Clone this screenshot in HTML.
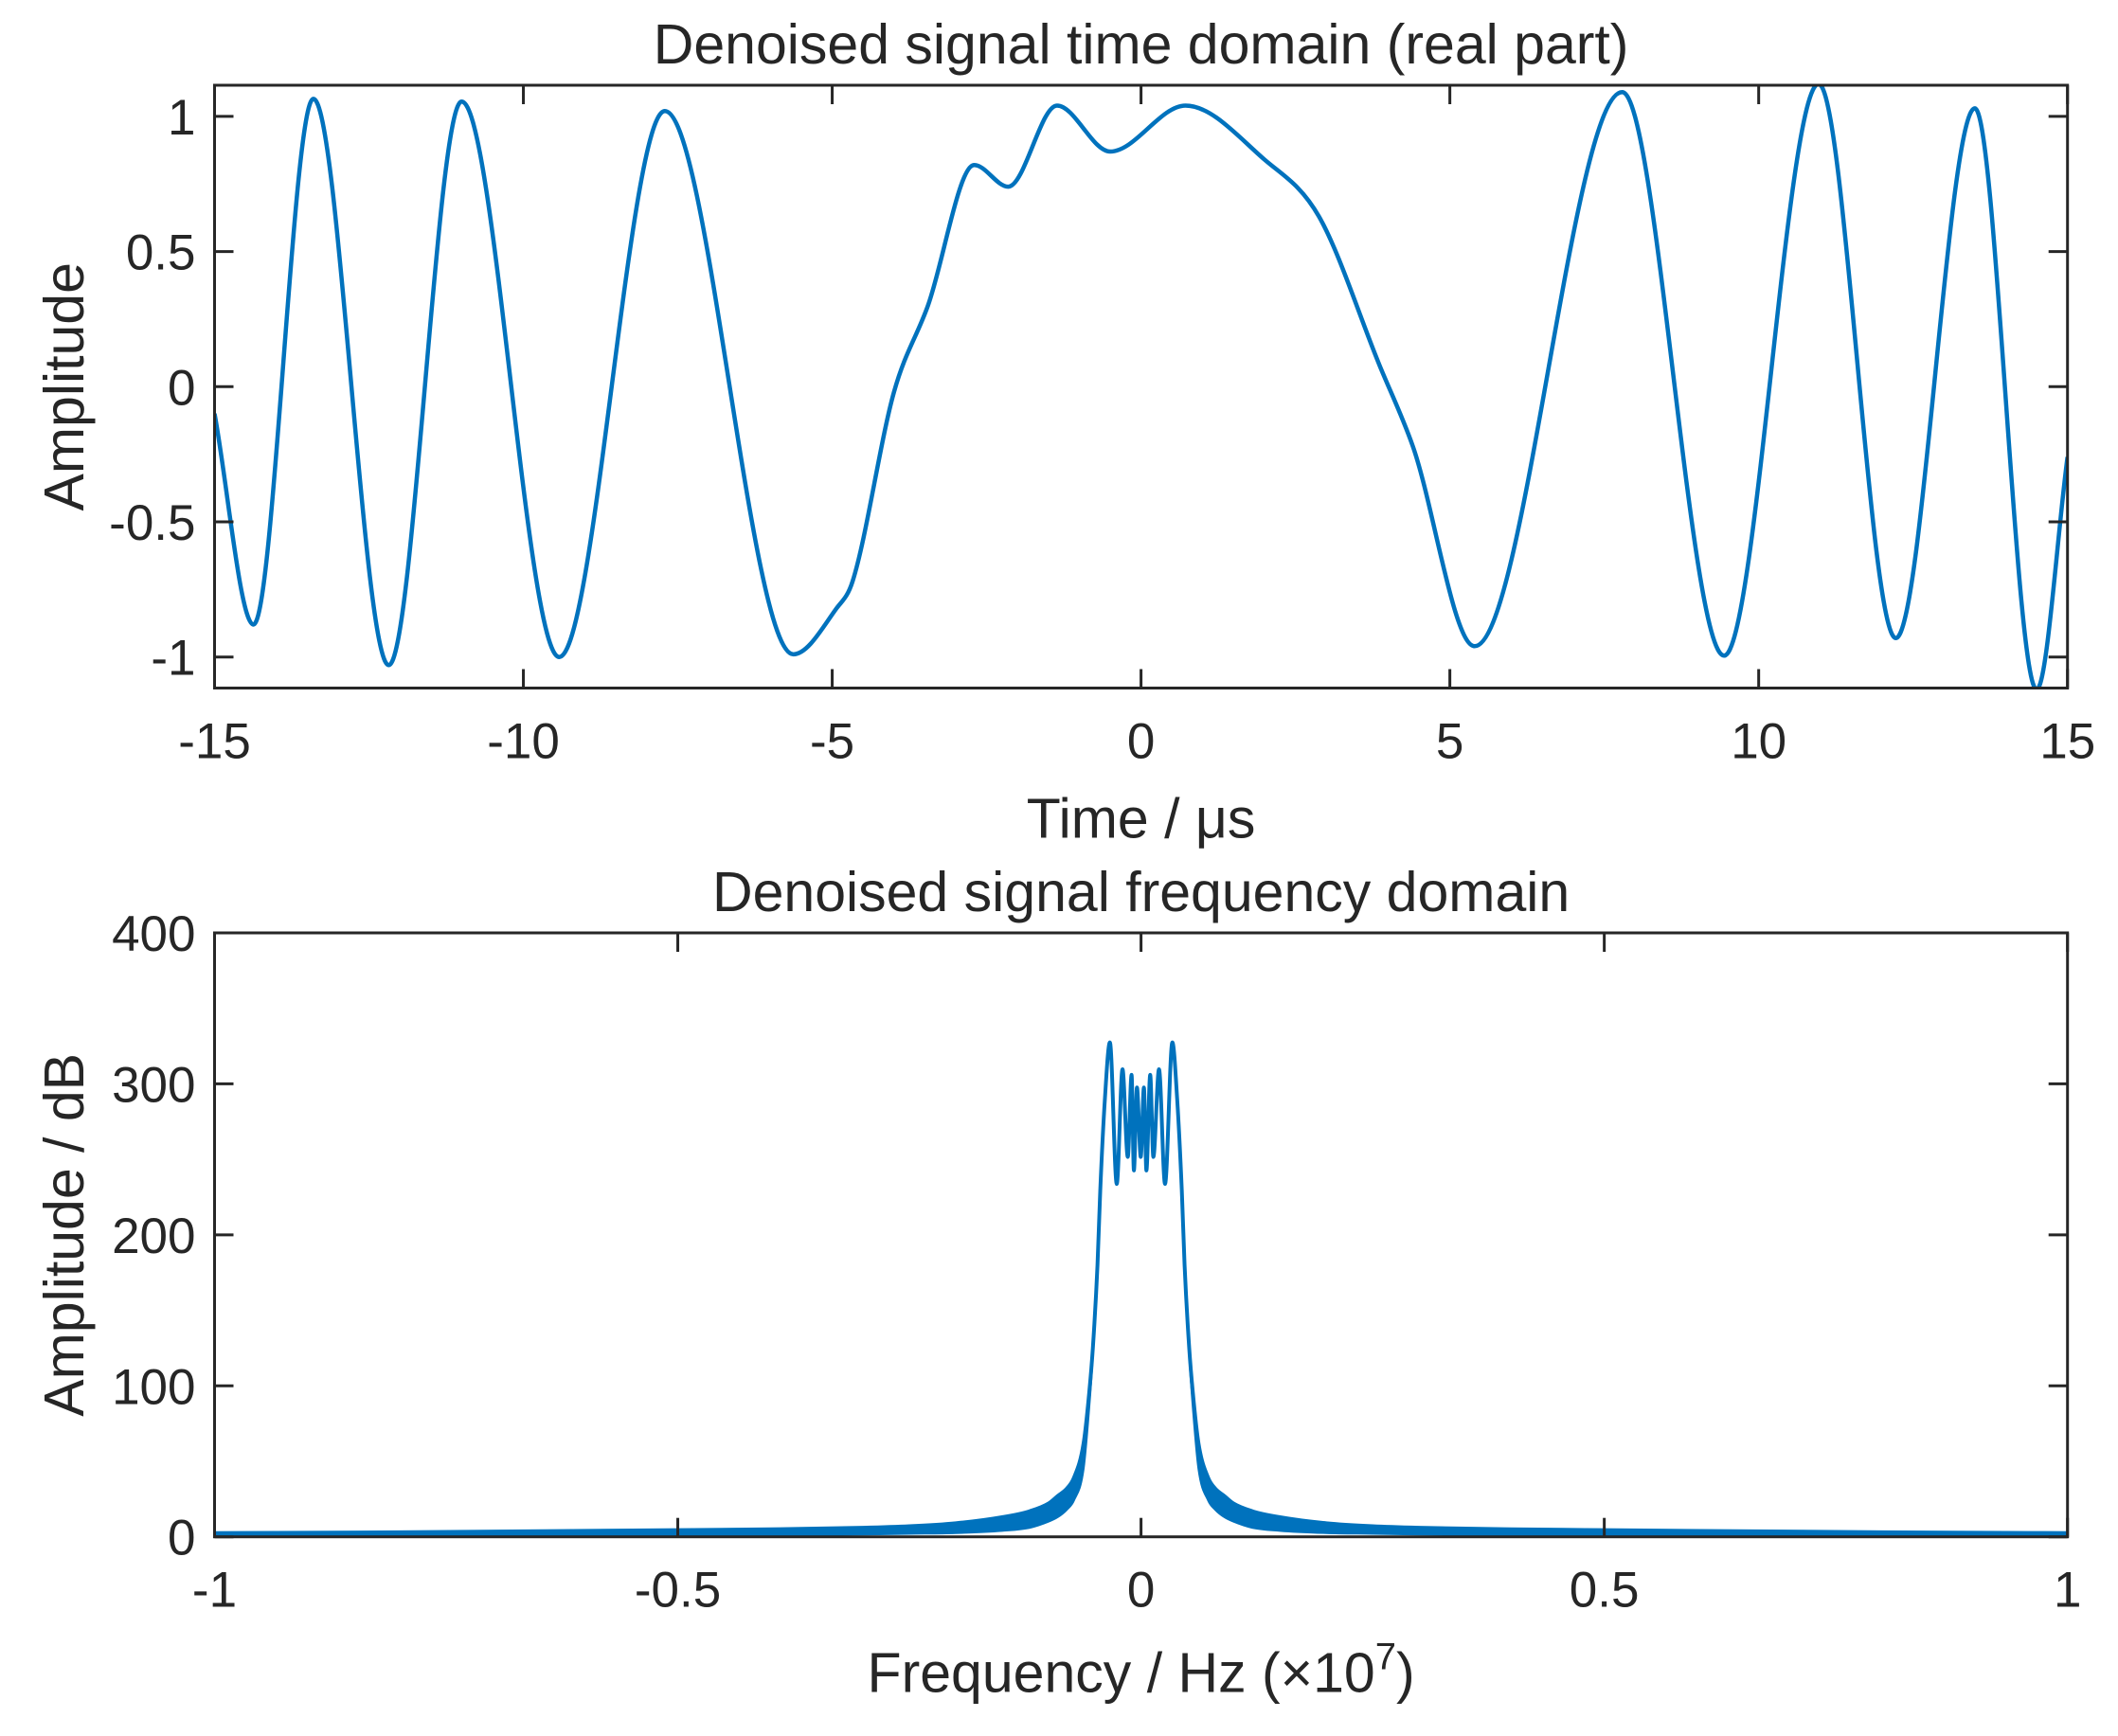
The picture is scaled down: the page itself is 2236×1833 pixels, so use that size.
<!DOCTYPE html>
<html><head><meta charset="utf-8">
<style>
html,body{margin:0;padding:0;background:#fff;}
svg{display:block;font-family:"Liberation Sans",Arial,sans-serif;}
text{fill:#262626;}
</style></head>
<body>
<svg id="chart" width="2236" height="1833" viewBox="0 0 2236 1833" xmlns="http://www.w3.org/2000/svg">
<g id="top"></g>
<g id="bot"></g>
</svg>
<script>
// ---- Top chart data (time in µs, real amplitude) ----
const timeT = [-15,-14.37,-13.4,-12.18,-11.0,-9.42,-7.71,-5.63,-4.93,-4.67,-4.0,-3.45,-2.7,-2.15,-1.36,-0.5,0.72,2.0,2.88,3.86,4.4,5.4,7.79,9.44,10.97,12.22,13.5,14.5,15];
const ampT  = [-0.1,-0.88,1.065,-1.03,1.055,-1.0,1.02,-0.99,-0.82,-0.72,-0.02,0.3,0.82,0.74,1.04,0.87,1.04,0.84,0.63,0.08,-0.22,-0.96,1.09,-0.995,1.12,-0.93,1.03,-1.12,-0.26];
const xTicksT = [-15,-10,-5,0,5,10,15];
const yTicksT = [-1,-0.5,0,0.5,1];
const yTickLabelsT = ["-1","-0.5","0","0.5","1"];

// ---- Bottom chart data (frequency ×1e7, amplitude dB) ----
const freqB = [-1,-0.8,-0.5,-0.4,-0.3,-0.25,-0.2,-0.15,-0.12,-0.1,-0.09,-0.08,-0.0725,-0.062,-0.056,-0.052,-0.047,-0.044,-0.039,-0.0336,-0.0262,-0.02,-0.0143,-0.0102,-0.0077,-0.0044,-0.0003,0.0031,0.0058,0.0099,0.0133,0.0194,0.0259,0.0338,0.039,0.044,0.047,0.052,0.056,0.062,0.0725,0.08,0.09,0.1,0.12,0.15,0.2,0.25,0.3,0.4,0.5,0.8,1];
const ampB  = [2.5,3,4.4,5,6,7,9,13,17,22,27,32,39,62,95,125,180,229.6,290,327.5,233.7,309.7,251.6,306,242.6,297.6,251.6,297.6,242.6,306,251.6,309.7,233.7,327.5,290,229.6,180,125,95,62,39,32,27,22,17,13,9,7,6,5,4.4,3,2.5];
const lowB  = [0,0.3,0.8,1,1.5,2,2.5,4,6,10,13,18,24,45,85,120,180,229.6,290,327.5,233.7,309.7,251.6,306,242.6,297.6,251.6,297.6,242.6,306,251.6,309.7,233.7,327.5,290,229.6,180,120,85,45,24,18,13,10,6,4,2.5,2,1.5,1,0.8,0.3,0];
const xTicksB = [-1,-0.5,0,0.5,1];
const xTickLabelsB = ["-1","-0.5","0","0.5","1"];
const yTicksB = [0,100,200,300,400];

const NS="http://www.w3.org/2000/svg";
function mk(tag, attrs, parent){const e=document.createElementNS(NS,tag);for(const k in attrs)e.setAttribute(k,attrs[k]);parent.appendChild(e);return e;}

function monotone(xs, ys, cont){
  const n=xs.length, d=[], m=new Array(n);
  for(let i=0;i<n-1;i++) d.push((ys[i+1]-ys[i])/(xs[i+1]-xs[i]));
  m[0]=d[0]; m[n-1]=d[n-2];
  for(let i=1;i<n-1;i++){ m[i]=(d[i-1]*d[i]<=0)?0:(d[i-1]+d[i])/2; }
  for(let i=0;i<n-1;i++){ if(d[i]===0){m[i]=0;m[i+1]=0;continue;} const a=m[i]/d[i], b=m[i+1]/d[i], s=a*a+b*b; if(s>9){const t=3/Math.sqrt(s);m[i]=t*a*d[i];m[i+1]=t*b*d[i];} }
  let p=(cont?"L":"M")+xs[0]+","+ys[0];
  for(let i=0;i<n-1;i++){const h=(xs[i+1]-xs[i])/3;p+=" C"+(xs[i]+h)+","+(ys[i]+m[i]*h)+" "+(xs[i+1]-h)+","+(ys[i+1]-m[i+1]*h)+" "+xs[i+1]+","+ys[i+1];}
  return p;
}

function axes(g, L, R, T, B, xTicks, xLabels, yTicks, yLabels, sx, sy, title, xlabel, ylabel, nm, xlOff){
  const tl=20;
  xTicks.forEach((v,i)=>{
    const x=sx(v);
    const t1=mk("line",{x1:x,x2:x,y1:B,y2:B-tl,stroke:"#262626","stroke-width":3},g);
    
    
    const t2=mk("line",{x1:x,x2:x,y1:T,y2:T+tl,stroke:"#262626","stroke-width":3},g);
    
    
    const tx=mk("text",{x:x,y:B+74,"font-size":53,"text-anchor":"middle"},g);
    tx.textContent=xLabels[i];
    
    
  });
  yTicks.forEach((v,i)=>{
    const y=sy(v);
    const t1=mk("line",{x1:L,x2:L+tl,y1:y,y2:y,stroke:"#262626","stroke-width":3},g);
    
    
    const t2=mk("line",{x1:R,x2:R-tl,y1:y,y2:y,stroke:"#262626","stroke-width":3},g);
    
    
    const tx=mk("text",{x:L-20,y:y+19,"font-size":53,"text-anchor":"end"},g);
    tx.textContent=yLabels[i];
    
    
  });
  const box=mk("rect",{x:L,y:T,width:R-L,height:B-T,fill:"none",stroke:"#262626","stroke-width":3},g);
  
  
  const tt=mk("text",{x:(L+R)/2,y:T-23,"font-size":59,"text-anchor":"middle"},g);
  tt.innerHTML=title;
  
  
  const xl=mk("text",{x:(L+R)/2,y:B+xlOff,"font-size":59,"text-anchor":"middle"},g);
  xl.innerHTML=xlabel;
  
  
  const cy=(T+B)/2;
  const yl=mk("text",{x:0,y:0,"font-size":59,"text-anchor":"middle",transform:"translate(88,"+cy+") rotate(-90)"},g);
  yl.textContent=ylabel;
  
  
}

// Top
(function(){
  const g=document.getElementById("top");
  const L=226.5,R=2182.7,T=90,B=726.5;
  const sx=v=>L+(v+15)/30*(R-L);
  const sy=v=>408.3-v*285.4;
  const xs=timeT.map(sx), ys=ampT.map(sy);
  const clip=mk("clipPath",{id:"c1"},g); mk("rect",{x:L,y:T,width:R-L,height:B-T},clip);
  const p=mk("path",{d:monotone(xs,ys),fill:"none",stroke:"#0072BD","stroke-width":4.5,"clip-path":"url(#c1)"},g);
  
  
  axes(g,L,R,T,B,xTicksT,xTicksT.map(String),yTicksT,yTickLabelsT,sx,sy,
    "Denoised signal time domain (real part)","Time / μs","Amplitude","time",158);
})();

// Bottom
(function(){
  const g=document.getElementById("bot");
  const L=226.5,R=2182.7,T=985,B=1622.7;
  const sx=v=>L+(v+1)/2*(R-L);
  const sy=v=>B-v*(B-T)/400;
  const xs=freqB.map(sx), yu=ampB.map(sy), yl=lowB.map(sy);
  const d=monotone(xs,yu)+" "+monotone(xs.slice().reverse(),yl.slice().reverse(),true)+"Z";
  const band=mk("path",{d:d,fill:"#0072BD",stroke:"#0072BD","stroke-width":2},g);
  
  
  const ln=mk("path",{d:monotone(xs,yu),fill:"none",stroke:"#0072BD","stroke-width":4,"stroke-linejoin":"round"},g);
  
  
  axes(g,L,R,T,B,xTicksB,xTickLabelsB,yTicksB,yTicksB.map(String),sx,sy,
    "Denoised signal frequency domain","Frequency / Hz (×10<tspan dy='-24' font-size='40'>7</tspan><tspan dy='24'>)</tspan>","Amplitude / dB","freq",164);
})();
</script>
</body></html>
